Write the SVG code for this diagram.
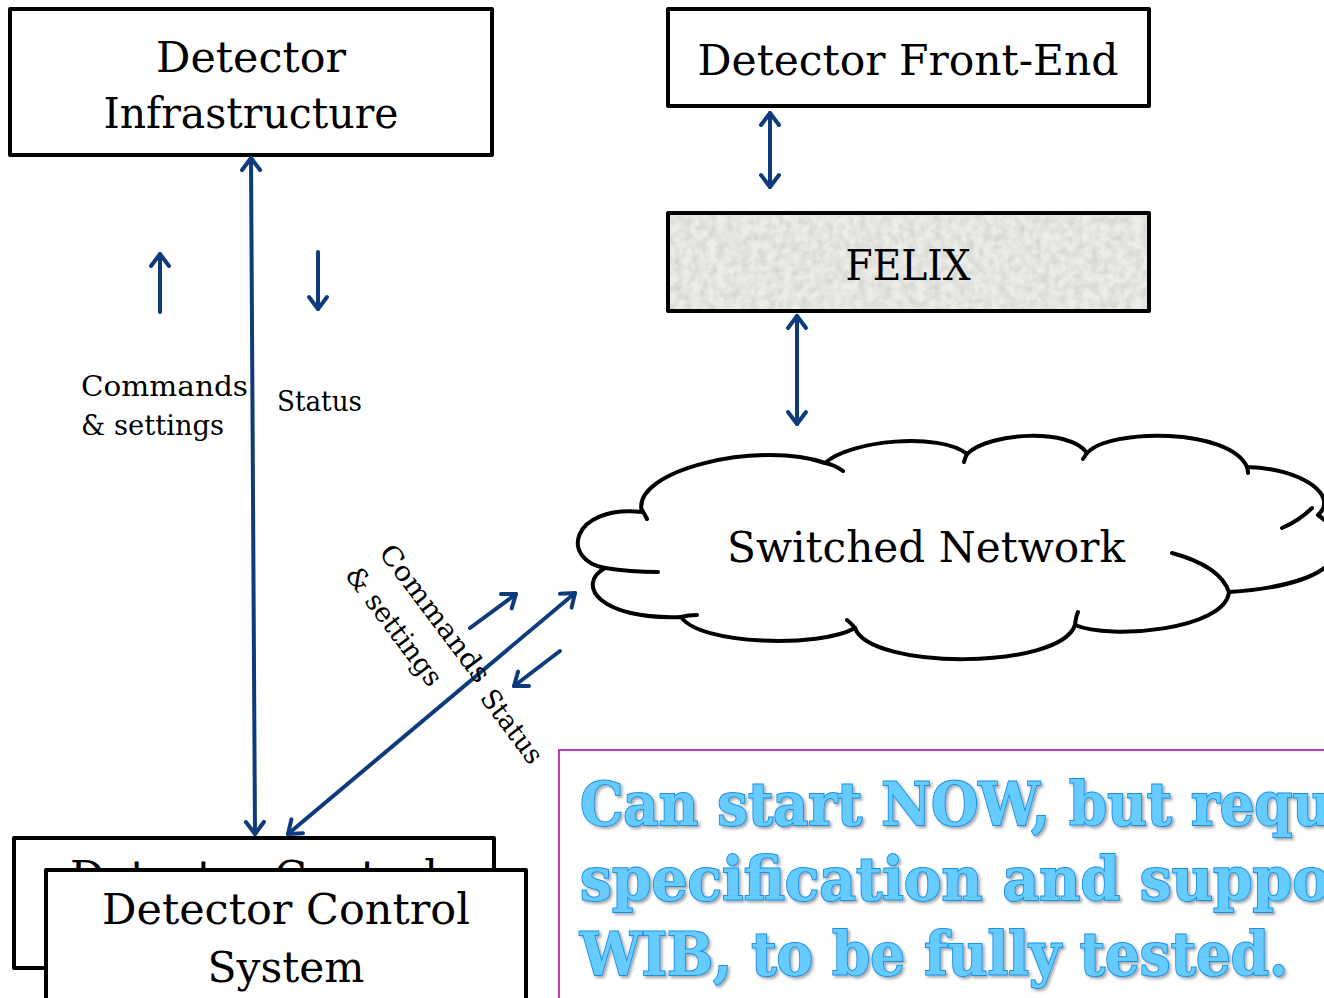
<svg xmlns="http://www.w3.org/2000/svg" width="1324" height="998" viewBox="0 0 1324 998">
<style>
.box{fill:#fff;stroke:#000;stroke-width:4;stroke-linejoin:round}
.lbl{font-family:"DejaVu Serif","Liberation Serif",serif;font-size:42px;fill:#000}
.sm{font-family:"DejaVu Serif","Liberation Serif",serif;font-size:27px;fill:#000}
.ar{stroke:#0d3b7c;stroke-width:4;fill:none;stroke-linecap:round}
.cl{fill:none;stroke:#000;stroke-width:4;stroke-linecap:round}
.call{font-family:"DejaVu Serif","Liberation Serif",serif;font-weight:bold;font-size:60px;fill:#66ccff;stroke:#1a8fe8;stroke-width:2;paint-order:stroke}
</style>
<defs>
<marker id="ah" viewBox="-16 -12 20 24" markerWidth="20" markerHeight="24" refX="0" refY="0" orient="auto-start-reverse" markerUnits="userSpaceOnUse">
<path d="M-12,-9 L0,0 L-12,9" fill="none" stroke="#0d3b7c" stroke-width="4" stroke-linecap="round" stroke-linejoin="round"/>
</marker>
<filter id="paper" x="0" y="0" width="100%" height="100%">
<feTurbulence type="fractalNoise" baseFrequency="0.12" numOctaves="3" seed="4" result="n"/>
<feColorMatrix in="n" type="matrix" values="0 0 0 0 0.55 0 0 0 0 0.55 0 0 0 0 0.53 1.1 0 0 0 -0.35"/>
<feComposite in2="SourceGraphic" operator="in"/>
</filter>
<filter id="sh" x="-5%" y="-20%" width="110%" height="140%">
<feDropShadow dx="2" dy="2" stdDeviation="1.5" flood-color="#000" flood-opacity="0.35"/>
</filter>
</defs>

<g id="detector-infrastructure">
<rect class="box" x="10" y="9" width="482" height="146"/>
<text class="lbl" x="251" y="72" text-anchor="middle" textLength="190" lengthAdjust="spacingAndGlyphs">Detector</text>
<text class="lbl" x="251" y="128" text-anchor="middle" textLength="295" lengthAdjust="spacingAndGlyphs">Infrastructure</text>
</g>

<g id="detector-front-end">
<rect class="box" x="668" y="9" width="481" height="97"/>
<text class="lbl" x="908" y="75" text-anchor="middle" textLength="421" lengthAdjust="spacingAndGlyphs">Detector Front-End</text>
</g>

<g id="felix">
<rect x="668" y="213" width="481" height="98" fill="#ecece9"/>
<rect x="668" y="213" width="481" height="98" fill="#fff" filter="url(#paper)"/>
<rect x="668" y="213" width="481" height="98" fill="none" stroke="#000" stroke-width="4" stroke-linejoin="round"/>
<text class="lbl" x="908" y="280" text-anchor="middle" textLength="125" lengthAdjust="spacingAndGlyphs">FELIX</text>
</g>

<g id="switched-network">
<path d="M642,512 C630,470 760,440 825,463 C850,440 940,432 967,454 C990,432 1070,428 1087,453 C1110,428 1230,428 1247,467 C1300,468 1340,495 1318,515 C1360,545 1340,585 1229,592 C1225,630 1110,640 1075,625 C1060,670 870,670 855,628 C820,648 700,645 681,617 C600,620 575,585 605,568 C560,560 570,505 642,512 Z" fill="#fff" stroke="#000" stroke-width="4" stroke-linejoin="round"/>
<path class="cl" d="M642,510 Q645,515 647,519 M825,463 Q835,465 843,471 M967,454 Q965,458 964,462 M1087,453 Q1085,456 1083,459 M1247,467 Q1248,470 1248,473 M1282,528 Q1300,520 1312,508 M1172,553 Q1220,566 1229,592 M1075,625 Q1076,616 1078,612 M855,628 Q851,623 847,620 M681,617 Q688,615 697,615 M605,568 Q630,572 658,572"/>
<text class="lbl" x="926" y="562" text-anchor="middle" textLength="398" lengthAdjust="spacingAndGlyphs">Switched Network</text>
</g>

<g id="detector-control-system">
<rect class="box" x="14" y="838" width="480" height="130"/>
<text class="lbl" x="254" y="891" text-anchor="middle" textLength="368" lengthAdjust="spacingAndGlyphs">Detector Control</text>
<rect class="box" x="46" y="870" width="480" height="140"/>
<text class="lbl" x="286" y="924" text-anchor="middle" textLength="368" lengthAdjust="spacingAndGlyphs">Detector Control</text>
<text class="lbl" x="286" y="982" text-anchor="middle" textLength="157" lengthAdjust="spacingAndGlyphs">System</text>
</g>

<g id="connectors">
<line class="ar" x1="251" y1="158" x2="255" y2="834" marker-start="url(#ah)" marker-end="url(#ah)"/>
<line class="ar" x1="288" y1="834" x2="575" y2="593" marker-start="url(#ah)" marker-end="url(#ah)"/>
<line class="ar" x1="770" y1="113" x2="770" y2="187" marker-start="url(#ah)" marker-end="url(#ah)"/>
<line class="ar" x1="797" y1="316" x2="797" y2="424" marker-start="url(#ah)" marker-end="url(#ah)"/>
<line class="ar" x1="160" y1="312" x2="160" y2="254" marker-end="url(#ah)"/>
<line class="ar" x1="318" y1="252" x2="318" y2="309" marker-end="url(#ah)"/>
<line class="ar" x1="470" y1="628" x2="516" y2="594" marker-end="url(#ah)"/>
<line class="ar" x1="560" y1="651" x2="514" y2="686" marker-end="url(#ah)"/>
</g>

<g id="labels">
<text class="sm" x="81" y="396" textLength="167" lengthAdjust="spacingAndGlyphs">Commands</text>
<text class="sm" x="81" y="435" textLength="143" lengthAdjust="spacingAndGlyphs">&amp; settings</text>
<text class="sm" x="277" y="411" textLength="85" lengthAdjust="spacingAndGlyphs">Status</text>
<text class="sm" transform="translate(378,553) rotate(53)" textLength="165" lengthAdjust="spacingAndGlyphs">Commands</text>
<text class="sm" transform="translate(344,575) rotate(53)" textLength="142" lengthAdjust="spacingAndGlyphs">&amp; settings</text>
<text class="sm" transform="translate(479,698) rotate(53)" textLength="85" lengthAdjust="spacingAndGlyphs">Status</text>
</g>

<g id="note">
<rect x="559" y="750" width="800" height="300" fill="none" stroke="#c03cc0" stroke-width="2"/>
<g filter="url(#sh)">
<text class="call" x="580" y="825" textLength="752" lengthAdjust="spacingAndGlyphs">Can start NOW, but requ</text>
<text class="call" x="580" y="900" textLength="750" lengthAdjust="spacingAndGlyphs">specification and suppo</text>
<text class="call" x="580" y="975" textLength="708" lengthAdjust="spacingAndGlyphs">WIB, to be fully tested.</text>
</g>
</g>
</svg>
